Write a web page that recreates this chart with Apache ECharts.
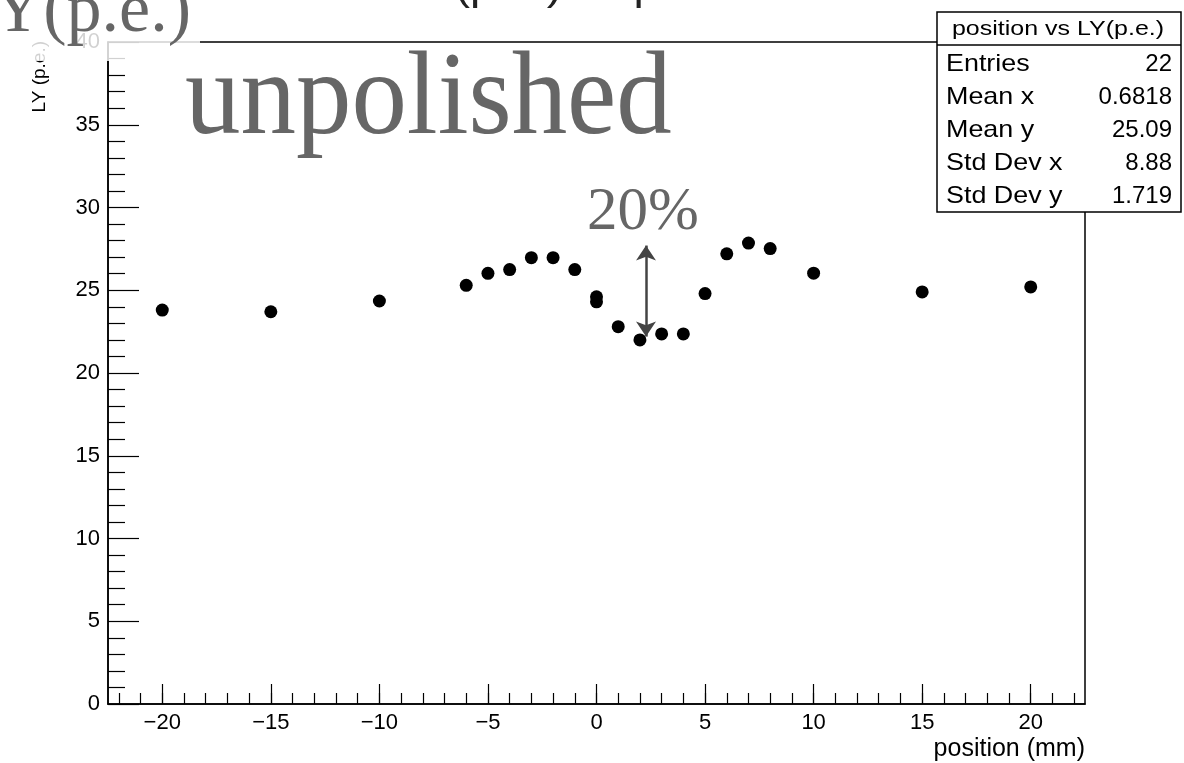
<!DOCTYPE html>
<html>
<head>
<meta charset="utf-8">
<script src="https://cdn.jsdelivr.net/npm/echarts@6/dist/echarts.min.js"></script>
<style>
  html, body { margin: 0; padding: 0; background: #ffffff; }
  #chart { width: 1184px; height: 763px; }
</style>
</head>
<body>
<div id="chart"></div>
<script>
// Scan positions along the bar (mm) and measured light yield (photo-electrons)
const positions = [-20, -15, -10, -6, -5, -4, -3, -2, -1, 0, 0, 1, 2, 3, 4, 5, 6, 7, 8, 10, 15, 20];
const lightYield = [23.8, 23.7, 24.35, 25.3, 26.02, 26.25, 26.97, 26.97, 26.25, 24.6, 24.3,
                    22.8, 22.0, 22.36, 22.36, 24.8, 27.2, 27.85, 27.52, 26.03, 24.9, 25.2];

// Axis ranges and tick positions
const xRange = [-22.5, 22.5];
const yRange = [0, 40];
const xMajorTicks = [-20, -15, -10, -5, 0, 5, 10, 15, 20];
const xMinorTicks = [];
for (let v = -22; v <= 22; v++) xMinorTicks.push(v);

// Statistics box contents
const statsTitle = 'position vs LY(p.e.)';
const statsLabels = ['Entries', 'Mean x', 'Mean y', 'Std Dev x', 'Std Dev y'];
const statsValues = ['22', '0.6818', '25.09', '8.88', '1.719'];

// Dip annotation: arrow spanning the drop around x = 2 mm
const dipArrow = { x: 2.28, low: 22.2, high: 27.7 };

const SANS = '"Liberation Sans", Arial, Helvetica, sans-serif';
const SERIF = '"Liberation Serif", "DejaVu Serif", serif';

const chart = echarts.init(document.getElementById('chart'), null, { renderer: 'canvas' });

const fmtMinus = v => String(v).replace('-', '\u2212');

const statsGraphics = [
  {
    type: 'rect', z: 50,
    shape: { x: 937, y: 12, width: 244, height: 200 },
    style: { fill: '#ffffff', stroke: '#000000', lineWidth: 1.5 }
  },
  {
    type: 'line', z: 51,
    shape: { x1: 937, y1: 45, x2: 1181, y2: 45 },
    style: { stroke: '#000000', lineWidth: 1.5 }
  },
  {
    type: 'text', z: 52, x: 1058, y: 29, scaleX: 1.25,
    style: { text: statsTitle, font: '20px ' + SANS, fill: '#000', align: 'center', verticalAlign: 'middle' }
  }
];
statsLabels.forEach((lab, i) => {
  const cy = 64 + i * 33;
  statsGraphics.push({
    type: 'text', z: 52, x: 946, y: cy, scaleX: 1.12,
    style: { text: lab, font: '24px ' + SANS, fill: '#000', align: 'left', verticalAlign: 'middle' }
  });
  statsGraphics.push({
    type: 'text', z: 52, x: 1172, y: cy,
    style: { text: statsValues[i], font: '24px ' + SANS, fill: '#000', align: 'right', verticalAlign: 'middle' }
  });
});

const option = {
  animation: false,
  backgroundColor: '#ffffff',
  grid: {
    left: 108, right: 99, top: 42, bottom: 59,
    show: true, borderColor: '#000000', borderWidth: 1.5,
    backgroundColor: 'transparent',
    containLabel: false,
    outerBoundsMode: 'none'
  },
  xAxis: [
    {
      type: 'value', min: xRange[0], max: xRange[1], position: 'bottom',
      axisLine: { show: true, onZero: false, lineStyle: { color: '#000', width: 1.5 } },
      axisTick: { show: true, inside: true, length: 20, customValues: xMajorTicks, lineStyle: { color: '#000', width: 1.2 } },
      axisLabel: { show: true, customValues: xMajorTicks, formatter: fmtMinus, color: '#000', fontSize: 22, fontFamily: SANS, margin: 8 },
      splitLine: { show: false }
    },
    {
      type: 'value', min: xRange[0], max: xRange[1], position: 'bottom',
      axisLine: { show: false, onZero: false },
      axisTick: { show: true, inside: true, length: 11, customValues: xMinorTicks, lineStyle: { color: '#000', width: 1.2 } },
      axisLabel: { show: false },
      splitLine: { show: false }
    }
  ],
  yAxis: {
    type: 'value', min: yRange[0], max: yRange[1], interval: 5,
    axisLine: { show: true, onZero: false, lineStyle: { color: '#000', width: 1.5 } },
    axisTick: { show: true, inside: true, length: 31, lineStyle: { color: '#000', width: 1.2 } },
    minorTick: { show: true, splitNumber: 5, length: 17, lineStyle: { color: '#000', width: 1.2 } },
    axisLabel: { color: '#000', fontSize: 22, fontFamily: SANS, margin: 8 },
    splitLine: { show: false },
    minorSplitLine: { show: false }
  },
  series: [
    {
      type: 'scatter',
      xAxisIndex: 0,
      data: positions.map((x, i) => [x, lightYield[i]]),
      symbol: 'circle',
      symbolSize: 13,
      itemStyle: { color: '#000000', opacity: 1 },
      markLine: {
        silent: true,
        symbol: ['arrow', 'arrow'],
        symbolSize: [15, 15],
        label: { show: false },
        lineStyle: { color: '#444444', width: 2.5, type: 'solid' },
        data: [[{ coord: [dipArrow.x, dipArrow.low] }, { coord: [dipArrow.x, dipArrow.high] }]]
      }
    }
  ],
  graphic: [
    // plot title, mostly above the top edge
    {
      type: 'text', z: 10, x: 597, y: 9, scaleX: 1.15,
      style: { text: 'LY(p.e.) vs position', font: '40px ' + SANS, fill: '#222', align: 'center', verticalAlign: 'bottom' }
    },
    // y axis title
    {
      type: 'text', z: 10, x: 40, y: 41, rotation: Math.PI / 2,
      style: { text: 'LY (p.e.)', font: '19px ' + SANS, fill: '#000', align: 'right', verticalAlign: 'middle' }
    },
    // x axis title
    {
      type: 'text', z: 10, x: 1085, y: 749,
      style: { text: 'position (mm)', font: '25px ' + SANS, fill: '#000', align: 'right', verticalAlign: 'middle' }
    },
    // translucent label panel in the top-left corner
    {
      type: 'rect', z: 100,
      shape: { x: 0, y: 0, width: 200, height: 61 },
      style: { fill: 'rgba(255,255,255,0.82)' }
    },
    {
      type: 'text', z: 101, x: -43, y: 13,
      style: { text: 'LY(p.e.)', font: '70px ' + SERIF, fill: '#666666', align: 'left', verticalAlign: 'middle' }
    },
    // sample label
    {
      type: 'text', z: 101, x: 185, y: 102, scaleX: 0.94,
      style: { text: 'unpolished', font: '118px ' + SERIF, fill: '#666666', align: 'left', verticalAlign: 'middle' }
    },
    // dip size label
    {
      type: 'text', z: 101, x: 587, y: 213,
      style: { text: '20%', font: '61px ' + SERIF, fill: '#666666', align: 'left', verticalAlign: 'middle' }
    }
  ].concat(statsGraphics)
};

chart.setOption(option);
</script>
</body>
</html>
